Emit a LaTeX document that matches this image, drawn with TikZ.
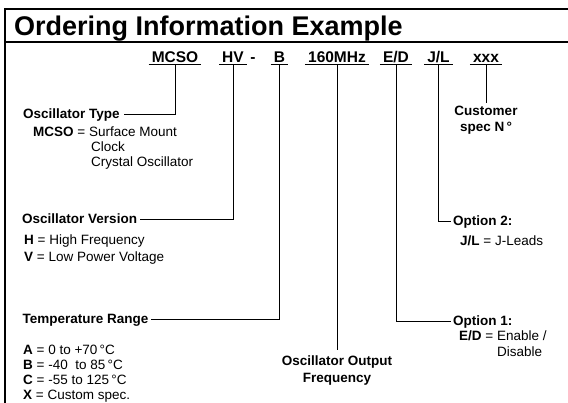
\documentclass[tikz,border=0pt]{standalone}
\usepackage{fontspec}
\setmainfont{Liberation Sans}
\usetikzlibrary{calc}

\tikzset{
  partcode/.style={font=\fontsize{15.5}{18}\selectfont\bfseries, anchor=base, inner xsep=3pt, inner ysep=0pt},
  heading/.style={font=\fontsize{13.5}{16}\selectfont\bfseries, anchor=base west, inner sep=0pt},
  heading c/.style={heading, anchor=base},
  descr/.style={font=\fontsize{13.5}{16}\selectfont, anchor=base west, inner sep=0pt},
  lead/.style={line width=0.9pt},
  rule/.style={line width=2pt},
  underl/.style={line width=1.4pt}
}

\begin{document}
\begin{tikzpicture}[x=1pt,y=-1pt]
  \useasboundingbox (0,0) rectangle (568,403);

  % frame and title
  \draw[rule] (5,403) -- (5,9.5) -- (568,9.5);
  \draw[rule] (5,42) -- (568,42);
  \node[anchor=base west, inner sep=0pt, font=\fontsize{27}{30}\selectfont\bfseries] (title) at (14,36) {Ordering Information Example};

  % part number, each field underlined
  \foreach \nm/\x/\txt in {mcso/175/MCSO, hv/233/HV, temp/279.5/B, freq/337/160MHz, ed/396/{E/D}, jl/438.5/{J/L}, xxx/486/xxx} {
    \node[partcode] (\nm) at (\x,63) {\txt};
    \draw[underl] ([yshift=-1.5pt]\nm.base west) -- ([yshift=-1.5pt]\nm.base east);
  }
  \node[partcode] (hyph) at (253,63) {-};

  % left side
  \node[heading] (otype) at (23,119) {Oscillator Type};
  \node[descr] (otype1) at (33,137) {\textbf{MCSO} = Surface Mount};
  \node[descr] (otype2) at (91,152) {Clock};
  \node[descr] (otype3) at (91,167) {Crystal Oscillator};

  \node[heading] (over) at (22,224) {Oscillator Version};
  \node[descr] (over1) at (24,245) {\textbf{H} = High Frequency};
  \node[descr] (over2) at (24,261.5) {\textbf{V} = Low Power Voltage};

  \node[heading] (trange) at (22.5,324) {Temperature Range};
  \node[descr] (trange1) at (23,355) {\textbf{A} = 0 to +70\,°C};
  \node[descr] (trange2) at (23,370) {\textbf{B} = -40\ \ to 85\,°C};
  \node[descr] (trange3) at (23,385) {\textbf{C} = -55 to 125\,°C};
  \node[descr] (trange4) at (23,400) {\textbf{X} = Custom spec.};

  % middle and right side
  \node[heading c] (fout1) at (337,366) {Oscillator Output};
  \node[heading c] (fout2) at (337,382.5) {Frequency};
  \node[heading] (opt1) at (453,325.7) {Option 1:};
  \node[descr] (opt1a) at (459,340.7) {\textbf{E/D} = Enable /};
  \node[descr] (opt1b) at (497,356.7) {Disable};
  \node[heading] (opt2) at (453,225.7) {Option 2:};
  \node[descr] (opt2a) at (460,245.7) {\textbf{J/L} = J-Leads};
  \node[heading c] (cust1) at (486,116) {Customer};
  \node[heading c] (cust2) at (486,131.5) {spec N\,°};

  % leads
  \draw[lead] ([yshift=-1.5pt]mcso.base) |- ([xshift=4pt,yshift=4.5pt]otype.base east);
  \draw[lead] ([yshift=-1.5pt]hv.base) |- ([xshift=3pt,yshift=4.5pt]over.base east);
  \draw[lead] ([yshift=-1.5pt]temp.base) |- ([xshift=2pt,yshift=4.5pt]trange.base east);
  \draw[lead] ([yshift=-1.5pt]freq.base) -- ([yshift=6pt]fout1.north);
  \draw[lead] ([yshift=-1.5pt]ed.base) |- ([xshift=-2pt,yshift=4.5pt]opt1.base west);
  \draw[lead] ([yshift=-1.5pt]jl.base) |- ([xshift=-2pt,yshift=4.5pt]opt2.base west);
  \draw[lead] ([yshift=-1.5pt]xxx.base) -- ([yshift=3pt]cust1.north);
\end{tikzpicture}
\end{document}
